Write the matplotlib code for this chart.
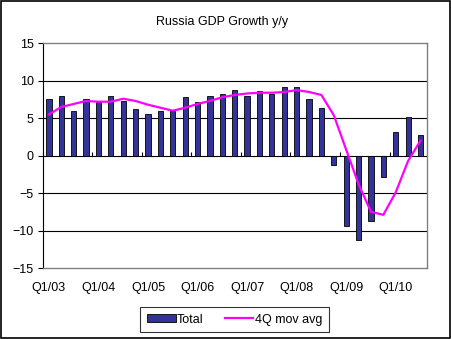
import matplotlib
matplotlib.use('Agg')
import matplotlib.pyplot as plt
from matplotlib.patches import Rectangle
import numpy as np

plt.rcParams['font.family'] = ['Liberation Sans', 'DejaVu Sans']

# quarterly data, Q1/03 .. Q3/10
quarters = [f'Q{q}/{y:02d}' for y in range(3, 11) for q in range(1, 5)][:31]
total = [7.5, 7.9, 6.0, 7.6, 7.2, 8.0, 7.3, 6.2, 5.6, 6.0, 6.0, 7.8, 7.2, 8.0, 8.2,
         8.8, 8.0, 8.6, 8.2, 9.2, 9.1, 7.6, 6.4, -1.2, -9.4, -11.2, -8.7, -2.9,
         3.1, 5.2, 2.7]
mov_avg = [5.5, 6.5, 6.9, 7.3, 7.2, 7.2, 7.6, 7.3, 6.8, 6.4, 6.0, 6.4, 6.9, 7.3, 7.8,
           8.1, 8.3, 8.4, 8.4, 8.5, 8.75, 8.5, 8.1, 5.4, 0.8, -3.8, -7.5, -7.9,
           -4.9, -0.7, 2.0]

fig = plt.figure(figsize=(4.52, 3.39), dpi=100)
ax = fig.add_axes([0.0945, 0.2094, 0.944 - 0.0945, 0.8723 - 0.2094])

x = np.arange(len(quarters))
bars = ax.bar(x, total, width=0.42, color='#333399', edgecolor='black', linewidth=0.6,
              label='Total', zorder=3)
line, = ax.plot(x, mov_avg, color='#FF00FF', linewidth=1.6, label='4Q mov avg', zorder=4)

ax.set_xlim(-0.5, len(quarters) - 0.5)
ax.set_ylim(-15, 15)
ax.set_yticks(np.arange(-15, 16, 5))
for v in [-10, -5, 5, 10]:
    ax.axhline(v, color='black', linewidth=0.8, zorder=1)

# category labels at the bottom, every 4th quarter
ax.set_xticks(x[::4])
ax.set_xticklabels(quarters[::4])
ax.tick_params(axis='x', length=0, pad=10, labelsize=9)
ax.tick_params(axis='y', length=3.5, width=0.8, pad=3, labelsize=9, direction='out')

for s in ['top', 'right', 'bottom']:
    ax.spines[s].set_color('#808080')
    ax.spines[s].set_linewidth(1)
ax.spines['left'].set_color('black')
ax.spines['left'].set_linewidth(0.8)

# zero axis with tick marks between years
sec = ax.secondary_xaxis(0.5)
sec.set_xticks(np.arange(-0.5, len(quarters), 4))
sec.set_xticklabels([])
sec.tick_params(length=3, width=0.8, direction='out')
sec.spines['bottom'].set_color('black')
sec.spines['bottom'].set_linewidth(0.8)

fig.text(0.491, 1 - 22 / 339, 'Russia GDP Growth y/y', ha='center', va='center',
         fontsize=9)

leg = fig.legend([bars, line], ['Total', '4Q mov avg'], loc='center',
                 bbox_to_anchor=(0.5186, 0.0575), ncol=2, fontsize=9,
                 frameon=True, fancybox=False, edgecolor='black', handlelength=2.3,
                 handleheight=0.6, handletextpad=0.1, columnspacing=1.7,
                 borderpad=0.55)
leg.get_frame().set_linewidth(0.8)

fig.patches.append(Rectangle((0.002, 0.003), 0.993, 0.994, transform=fig.transFigure,
                             fill=False, edgecolor='black', linewidth=1.2))

fig.savefig('out.png', dpi=100)
